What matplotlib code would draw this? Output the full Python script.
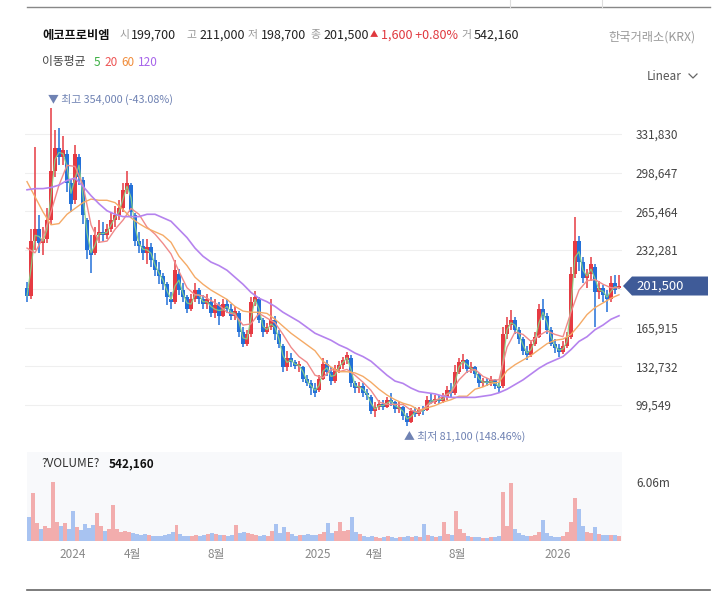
import numpy as np
import pandas as pd
import matplotlib
matplotlib.use("Agg")
import matplotlib.pyplot as plt
from matplotlib.patches import Polygon
from matplotlib.lines import Line2D
from matplotlib.transforms import IdentityTransform

plt.rcParams['font.family'] = ['Noto Sans CJK KR', 'DejaVu Sans']

# candles of ~4 trading days each, prices in thousand won
opens = [200, 193, 240, 250, 238, 242, 258, 300, 320, 312,
         315, 290, 275, 312, 292, 258, 232, 230, 245, 248,
         245, 250, 258, 262, 268, 284, 288, 262, 240, 236,
         230, 235, 224, 215, 210, 203, 190, 188, 212, 198,
         192, 182, 190, 198, 190, 186, 188, 178, 185, 176,
         186, 182, 176, 178, 162, 152, 160, 188, 190, 172,
         162, 166, 172, 160, 150, 132, 140, 136, 133, 132,
         122, 118, 114, 112, 122, 135, 128, 120, 130, 134,
         138, 140, 118, 114, 116, 110, 106, 94, 98, 100,
         98, 104, 102, 96, 98, 90, 85, 94, 92, 95,
         95, 104, 102, 105, 103, 106, 112, 110, 128, 136,
         138, 130, 132, 126, 118, 120, 118, 121, 116, 116,
         160, 168, 172, 164, 156, 146, 142, 152, 158, 182,
         176, 164, 152, 148, 145, 150, 158, 212, 240, 222,
         208, 212, 218, 196, 200, 194, 190, 204, 199.7]
closes = [193, 240, 250, 238, 242, 258, 300, 320, 312, 318,
          290, 272, 315, 295, 262, 232, 228, 245, 248, 245,
          250, 258, 262, 268, 284, 290, 265, 240, 236, 230,
          235, 224, 215, 210, 203, 192, 188, 215, 198, 192,
          182, 190, 198, 190, 186, 190, 178, 185, 176, 186,
          182, 176, 180, 162, 152, 160, 188, 192, 172, 162,
          166, 172, 160, 152, 132, 140, 136, 133, 134, 122,
          118, 114, 110, 122, 135, 128, 120, 130, 134, 138,
          142, 118, 114, 116, 110, 108, 94, 98, 100, 98,
          104, 102, 96, 98, 90, 85, 94, 92, 95, 94,
          104, 102, 105, 103, 106, 112, 110, 128, 136, 138,
          130, 132, 126, 118, 120, 118, 121, 116, 114, 160,
          168, 172, 164, 156, 146, 142, 152, 158, 182, 176,
          164, 152, 148, 145, 150, 158, 212, 240, 222, 208,
          212, 220, 196, 200, 194, 190, 204, 198, 201.5]
highs = [205, 250, 321, 262, 252, 268, 354, 335, 337, 330,
         318, 292, 322, 315, 295, 260, 245, 252, 258, 256,
         255, 265, 270, 275, 290, 300, 290, 264, 248, 242,
         242, 238, 230, 222, 213, 205, 196, 224, 216, 204,
         194, 195, 204, 200, 194, 195, 192, 190, 188, 190,
         190, 186, 184, 180, 166, 164, 192, 197, 192, 174,
         170, 190, 176, 164, 152, 146, 144, 138, 137, 133,
         125, 121, 118, 125, 140, 138, 132, 134, 137, 141,
         145, 142, 120, 119, 118, 113, 108, 102, 104, 104,
         106, 110, 103, 102, 99, 93, 97, 98, 98, 99,
         107, 110, 108, 108, 110, 116, 118, 134, 140, 143,
         139, 136, 133, 127, 123, 123, 124, 122, 118, 166,
         175, 181, 175, 166, 158, 150, 155, 162, 186, 190,
         178, 166, 156, 152, 154, 162, 218, 261, 244, 226,
         216, 226, 220, 206, 202, 198, 210, 211, 211]
lows = [188, 190, 232, 230, 228, 238, 255, 295, 305, 305,
        282, 265, 272, 288, 255, 225, 213, 228, 238, 240,
        242, 248, 252, 258, 265, 280, 260, 236, 230, 224,
        220, 218, 210, 203, 198, 185, 182, 186, 194, 188,
        178, 180, 188, 186, 182, 182, 175, 174, 168, 175,
        178, 172, 172, 158, 149, 150, 158, 184, 170, 158,
        160, 164, 155, 148, 128, 129, 132, 130, 128, 119,
        116, 108, 106, 111, 121, 124, 117, 118, 127, 130,
        135, 115, 110, 110, 106, 104, 92, 89, 95, 95,
        97, 99, 93, 93, 87, 81.1, 84, 89, 90, 91,
        94, 100, 100, 100, 101, 104, 106, 108, 126, 130,
        127, 127, 123, 115, 115, 116, 116, 113, 110, 114,
        156, 164, 160, 152, 142, 138, 141, 150, 157, 172,
        160, 150, 144, 141, 143, 148, 156, 208, 214, 204,
        200, 206, 166, 190, 188, 179, 188, 195, 198.7]
# volume in millions of shares, same candles
volume_m = [2.5, 4.9, 1.8, 1.2, 1.5, 1.3, 6.06, 2.0, 1.5, 1.8,
            1.2, 3.1, 1.4, 1.1, 1.7, 1.3, 1.6, 2.9, 1.5, 1.0,
            1.2, 3.7, 1.2, 0.9, 1.0, 0.9, 0.8, 0.7, 0.6, 0.7,
            0.6, 0.5, 0.5, 0.5, 0.6, 0.7, 0.9, 1.6, 0.7, 0.5,
            0.5, 0.5, 0.6, 0.5, 0.6, 0.7, 0.8, 0.7, 0.6, 0.6,
            0.5, 0.6, 1.6, 0.8, 0.9, 0.8, 0.7, 0.6, 0.5, 0.6,
            0.5, 1.0, 1.7, 0.8, 1.4, 0.9, 0.7, 0.5, 0.6, 0.6,
            0.7, 0.6, 0.6, 0.7, 0.9, 1.8, 0.8, 1.0, 2.0, 1.0,
            1.1, 2.5, 0.9, 0.7, 0.5, 0.4, 0.5, 0.4, 0.3, 0.4,
            0.5, 0.4, 0.3, 0.4, 0.4, 0.5, 0.4, 0.5, 0.4, 1.7,
            0.6, 0.5, 0.4, 0.5, 2.0, 0.7, 0.6, 3.1, 1.2, 0.8,
            0.5, 0.4, 0.4, 0.4, 0.3, 0.3, 0.4, 0.4, 0.5, 5.0,
            1.5, 6.0, 1.2, 0.8, 0.6, 0.5, 0.5, 0.6, 0.9, 2.2,
            0.8, 0.5, 0.4, 0.4, 0.5, 0.9, 2.0, 4.4, 3.3, 1.5,
            0.9, 0.8, 1.4, 0.7, 0.6, 0.6, 0.6, 0.6, 0.54]
# moving averages, one point every 2 candles
ma20 = [234, 230, 243, 265, 288, 305, 304, 288, 254, 239,
        240, 250, 258, 268, 263, 252, 246, 238, 229, 214,
        200, 194, 193, 189, 185, 179, 177, 168, 169, 178,
        174, 170, 160, 149, 141, 136, 125, 123, 130, 128,
        130, 125, 119, 112, 102, 100, 100, 100, 95, 93,
        99, 103, 107, 110, 121, 128, 130, 124, 121, 121,
        149, 162, 160, 154, 159, 163, 160, 158, 179, 198,
        206, 207, 203, 200, 200]
ma60 = [291, 278, 265, 254, 255, 263, 268, 273, 276, 275,
        275, 273, 267, 260, 255, 251, 248, 245, 239, 227,
        219, 209, 203, 198, 194, 190, 184, 180, 179, 179,
        178, 173, 167, 161, 156, 151, 146, 137, 132, 128,
        128, 127, 124, 119, 113, 108, 104, 101, 99, 95,
        97, 99, 102, 104, 107, 107, 113, 115, 118, 119,
        129, 134, 138, 142, 147, 152, 155, 156, 160, 168,
        177, 183, 187, 191, 194]
ma120 = [284, 285, 285, 286, 288, 292, 294, 287, 279, 272,
         266, 263, 261, 261, 261, 263, 263, 260, 257, 250,
         243, 234, 227, 222, 219, 215, 209, 203, 196, 191,
         188, 184, 179, 175, 171, 166, 161, 158, 155, 151,
         148, 144, 141, 137, 131, 125, 120, 118, 114, 111,
         110, 109, 107, 106, 106, 106, 106, 107, 108, 110,
         113, 117, 121, 126, 131, 135, 138, 141, 147, 154,
         158, 164, 168, 173, 176]

tick_days = [43, 103, 187, 289, 346, 429, 529]
tick_labels = ['2024', '4월', '8월', '2025', '4월', '8월', '2026']
price_ticks = [99549, 132732, 165915, 199098, 232281, 265464, 298647, 331830]

o = np.array(opens) * 1000
c = np.array(closes) * 1000
h = np.array(highs) * 1000
l = np.array(lows) * 1000
vol = np.array(volume_m) * 1e6
days = np.arange(len(o)) * 4
ma_days = days[::2]

UP, DOWN = '#e63a42', '#2370d8'
up = c >= o
col = np.where(up, UP, DOWN)

W, H = 721, 594
fig = plt.figure(figsize=(W / 100, H / 100), dpi=100)


def fx(px):
    return px / W


def fy(py):
    return 1 - py / H


ax = fig.add_axes([fx(25), fy(448), fx(622) - fx(25), fy(90) - fy(448)])
axv = fig.add_axes([fx(27), fy(541), fx(622) - fx(27), fy(452) - fy(541)])

# price panel
ax.vlines(days, l, h, colors=col, lw=1.1, zorder=2)
body = np.maximum(np.abs(c - o), 1500)
ax.bar(days, body, bottom=np.minimum(o, c), width=3.5, color=col, lw=0, zorder=2)

ma5 = pd.Series(c).rolling(2, min_periods=1).mean()
ax.plot(days, ma5, color='#86d486', lw=0.9, alpha=0.9, zorder=3)
ax.plot(ma_days, np.array(ma20) * 1000, color='#f08a8a', lw=1.0, zorder=3)
ax.plot(ma_days, np.array(ma60) * 1000, color='#f5aa66', lw=1.0, zorder=3)
ax.plot(ma_days, np.array(ma120) * 1000, color='#b583ee', lw=1.2, zorder=3)

ax.set_xlim(-2, 595)
ax.set_ylim(62606, 369556)
ax.yaxis.tick_right()
ax.set_yticks(price_ticks)
ax.set_yticklabels(['' if t == 199098 else f'{t:,}' for t in price_ticks])
ax.tick_params(axis='y', length=0, pad=10, labelsize=8.5, labelcolor='#444')
ax.tick_params(axis='x', bottom=False, labelbottom=False)
ax.grid(axis='y', color='#efefef', lw=0.8)
ax.set_axisbelow(True)
for s in ax.spines.values():
    s.set_visible(False)

i_hi = int(np.argmax(h))
i_lo = int(np.argmin(l))
ax.annotate('▼ 최고 354,000 (-43.08%)', xy=(days[i_hi], h[i_hi]), xytext=(-2.5, 2),
            textcoords='offset points', ha='left', va='bottom', fontsize=7.8,
            color='#6f82b3')
ax.annotate('▲ 최저 81,100 (148.46%)', xy=(days[i_lo], l[i_lo]), xytext=(-2.5, -3),
            textcoords='offset points', ha='left', va='top', fontsize=7.8,
            color='#6f82b3')

# volume panel
vcol = np.where(up, '#f19a9a', '#94b6ef')
axv.bar(days - 1, vol, width=4.0, color=vcol, alpha=0.8, lw=0)
axv.set_facecolor('#f8f9fb')
axv.set_xlim(-3, 594)
axv.set_ylim(0, 9.14e6)
axv.yaxis.tick_right()
axv.set_yticks([6.06e6])
axv.set_yticklabels(['6.06m'])
axv.tick_params(axis='y', length=0, pad=10, labelsize=8.5, labelcolor='#444')
axv.set_xticks(tick_days)
axv.set_xticklabels(tick_labels)
axv.tick_params(axis='x', length=0, pad=5, labelsize=8.5, labelcolor='#888')
for s in axv.spines.values():
    s.set_visible(False)
axv.text(0.025, 0.87, '?VOLUME?', transform=axv.transAxes, fontsize=8.5,
         color='#333', va='center')
axv.text(0.137, 0.87, '542,160', transform=axv.transAxes, fontsize=8.5,
         color='#111', fontweight='bold', va='center')

# current price tag
y0 = ax.transData.transform((0, c[-1]))[1]
tag = Polygon([(623, y0), (632, y0 + 9.5), (708, y0 + 9.5), (708, y0 - 9.5),
               (632, y0 - 9.5)], closed=True, fc='#3f5b98', ec='none',
              transform=IdentityTransform())
fig.add_artist(tag)
fig.text(fx(636), y0 / H, '201,500', color='white', fontsize=9.5, va='center')

# header
fig.text(fx(42), fy(35), '에코프로비엠', fontsize=8.8, fontweight='bold', color='#111',
         va='center')
header = [('199,700', 131, '#222'), ('211,000', 199, '#222'), ('198,700', 261, '#222'),
          ('201,500', 323, '#222'), ('1,600 +0.80%', 381, '#e0383e'),
          ('542,160', 474, '#222')]
for txt, px, cl in header:
    fig.text(fx(px), fy(35), txt, fontsize=9, color=cl, va='center')
for txt, px in [('시', 120), ('고', 186), ('저', 248), ('종', 310), ('거', 461)]:
    fig.text(fx(px), fy(35), txt, fontsize=7.8, color='#999', va='center')
fig.text(fx(370), fy(35), '▲', fontsize=6, color='#e0383e', va='center')
fig.text(fx(608), fy(37), '한국거래소(KRX)', fontsize=8.8, color='#999', va='center')

fig.text(fx(42), fy(62), '이동평균', fontsize=8.5, color='#444', va='center')
for txt, px, cl in [('5', 94, '#3cb043'), ('20', 104, '#ee5555'),
                    ('60', 121, '#f08c3a'), ('120', 138, '#a765ea')]:
    fig.text(fx(px), fy(62), txt, fontsize=8.5, color=cl, va='center')

fig.text(fx(647), fy(76), 'Linear', fontsize=8.5, color='#555', va='center')
fig.add_artist(Line2D([fx(689), fx(693), fx(697)], [fy(74), fy(78), fy(74)],
                      color='#666', lw=0.9))

# frame lines
fig.add_artist(Line2D([fx(27), fx(710)], [fy(7), fy(7)], color='#888', lw=1.0))
for px in (510, 602):
    fig.add_artist(Line2D([fx(px), fx(px)], [fy(0), fy(7)], color='#ddd', lw=0.8))
fig.add_artist(Line2D([fx(27), fx(710)], [fy(590), fy(590)], color='#666', lw=1.2))

fig.savefig('out.png', dpi=100)
